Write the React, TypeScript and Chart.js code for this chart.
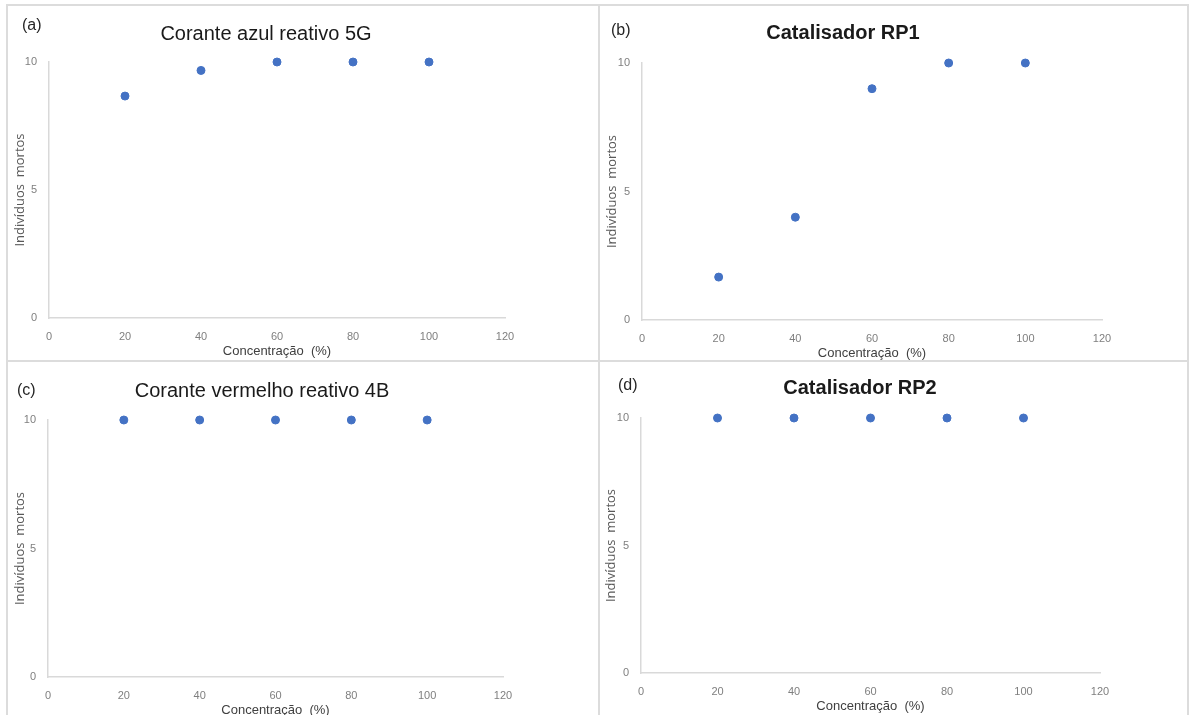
import React, { useEffect, useRef } from "react";
import { Chart, registerables } from "chart.js";

Chart.register(...registerables);

// ---------- data ----------
const concentrations = [20, 40, 60, 80, 100];
const azulReativo5G = [8.67, 9.67, 10, 10, 10];
const catalisadorRP1 = [1.67, 4, 9, 10, 10];
const vermelhoReativo4B = [10, 10, 10, 10, 10];
const catalisadorRP2 = [10, 10, 10, 10, 10];

const panelLetters = ["(a)", "(b)", "(c)", "(d)"];
const panelTitles = [
  "Corante azul reativo 5G",
  "Catalisador RP1",
  "Corante vermelho reativo 4B",
  "Catalisador RP2",
];
const xAxisTitle = "Concentração  (%)";
const yAxisTitle = "Indivíduos  mortos";
const xMin = 0;
const xMax = 120;
const xStep = 20;
const yMin = 0;
const yMax = 10;
const yStep = 5;

const seriesList = [azulReativo5G, catalisadorRP1, vermelhoReativo4B, catalisadorRP2];

// ---------- layout (page pixel positions) ----------
const layouts = [
  { left: 8, top: 6, width: 591, plot: { l: 49, t: 62, r: 505, b: 318 }, title: { cx: 266, cy: 33, bold: false }, letter: { x: 22, cy: 25 } },
  { left: 600, top: 6, width: 588, plot: { l: 642, t: 63, r: 1102, b: 320 }, title: { cx: 843, cy: 32, bold: true }, letter: { x: 611, cy: 30 } },
  { left: 8, top: 363, width: 590, plot: { l: 48, t: 420, r: 503, b: 677 }, title: { cx: 262, cy: 390, bold: false }, letter: { x: 17, cy: 390 } },
  { left: 599, top: 363, width: 589, plot: { l: 641, t: 418, r: 1100, b: 673 }, title: { cx: 860, cy: 387, bold: true }, letter: { x: 618, cy: 385 } },
];

const X_AXIS_HEIGHT = 41;
const POINT_COLOR = "#4472C4";
const AXIS_COLOR = "#d9d9d9";
const TICK_COLOR = "#7f7f7f";
const FONT = "'Liberation Sans', Arial, sans-serif";
const Y_TITLE_FONT = "'Open Sans', 'Liberation Sans', sans-serif";

function Panel({ index }: { index: number }) {
  const ref = useRef<HTMLCanvasElement | null>(null);
  const lay = layouts[index];
  const height = lay.plot.b + X_AXIS_HEIGHT - lay.top;

  useEffect(() => {
    if (!ref.current) return;
    const values = seriesList[index];
    const yAxisWidth = lay.plot.l - lay.left;
    const chart = new Chart(ref.current, {
      type: "scatter",
      data: {
        datasets: [
          {
            data: concentrations.map((x, i) => ({ x, y: values[i] })),
            backgroundColor: POINT_COLOR,
            borderColor: POINT_COLOR,
            pointRadius: 4,
            pointHoverRadius: 4,
            clip: false as any,
          },
        ],
      },
      options: {
        responsive: false,
        animation: false,
        devicePixelRatio: 1,
        layout: {
          padding: {
            left: 0,
            top: lay.plot.t - lay.top,
            right: lay.left + lay.width - lay.plot.r,
            bottom: 0,
          },
        },
        plugins: {
          legend: { display: false },
          tooltip: { enabled: false },
          title: { display: false },
        },
        scales: {
          x: {
            type: "linear",
            position: "bottom",
            min: xMin,
            max: xMax,
            ticks: {
              stepSize: xStep,
              padding: 12,
              color: TICK_COLOR,
              font: { family: FONT, size: 11 },
              maxRotation: 0,
            },
            grid: { display: true, color: "rgba(0,0,0,0)", drawTicks: false },
            border: { display: true, color: AXIS_COLOR, width: 1.5 },
            title: {
              display: true,
              text: xAxisTitle,
              color: "#404040",
              font: { family: FONT, size: 13 },
              padding: { top: 0, bottom: 0 },
            },
            afterFit: (s: any) => {
              s.height = X_AXIS_HEIGHT;
            },
          },
          y: {
            type: "linear",
            min: yMin,
            max: yMax,
            ticks: {
              stepSize: yStep,
              padding: 12,
              color: TICK_COLOR,
              font: { family: FONT, size: 11 },
            },
            grid: { display: true, color: "rgba(0,0,0,0)", drawTicks: false },
            border: { display: true, color: AXIS_COLOR, width: 1.5 },
            title: {
              display: true,
              text: yAxisTitle,
              color: "#595959",
              font: { family: Y_TITLE_FONT, size: 13 },
              padding: { top: 4, bottom: 0 },
            },
            afterFit: (s: any) => {
              s.width = yAxisWidth;
            },
          },
        },
      } as any,
    });
    return () => chart.destroy();
  }, [index]);

  return (
    <>
      <canvas
        ref={ref}
        width={lay.width}
        height={height}
        style={{ position: "absolute", left: lay.left, top: lay.top, width: lay.width, height }}
      />
      <div
        style={{
          position: "absolute",
          left: lay.title.cx,
          top: lay.title.cy,
          transform: "translate(-50%, -50%)",
          whiteSpace: "nowrap",
          fontFamily: FONT,
          fontSize: 20,
          fontWeight: lay.title.bold ? 700 : 400,
          color: "#1a1a1a",
          lineHeight: 1,
        }}
      >
        {panelTitles[index]}
      </div>
      <div
        style={{
          position: "absolute",
          left: lay.letter.x,
          top: lay.letter.cy,
          transform: "translateY(-50%)",
          whiteSpace: "nowrap",
          fontFamily: FONT,
          fontSize: 16,
          color: "#262626",
          lineHeight: 1,
        }}
      >
        {panelLetters[index]}
      </div>
    </>
  );
}

const lineStyle = (left: number, top: number, width: number, height: number): React.CSSProperties => ({
  position: "absolute",
  left,
  top,
  width,
  height,
  background: "#dcdcdc",
});

export default function App() {
  return (
    <div
      style={{
        position: "absolute",
        left: 0,
        top: 0,
        width: 1190,
        height: 715,
        overflow: "hidden",
        background: "#ffffff",
      }}
    >
      <div style={lineStyle(7, 4, 1182, 2)} />
      <div style={lineStyle(6, 4, 2, 711)} />
      <div style={lineStyle(598, 4, 2, 711)} />
      <div style={lineStyle(6, 360, 1182, 2)} />
      <div style={lineStyle(1187, 4, 2, 711)} />
      {layouts.map((_, i) => (
        <Panel key={i} index={i} />
      ))}
    </div>
  );
}
